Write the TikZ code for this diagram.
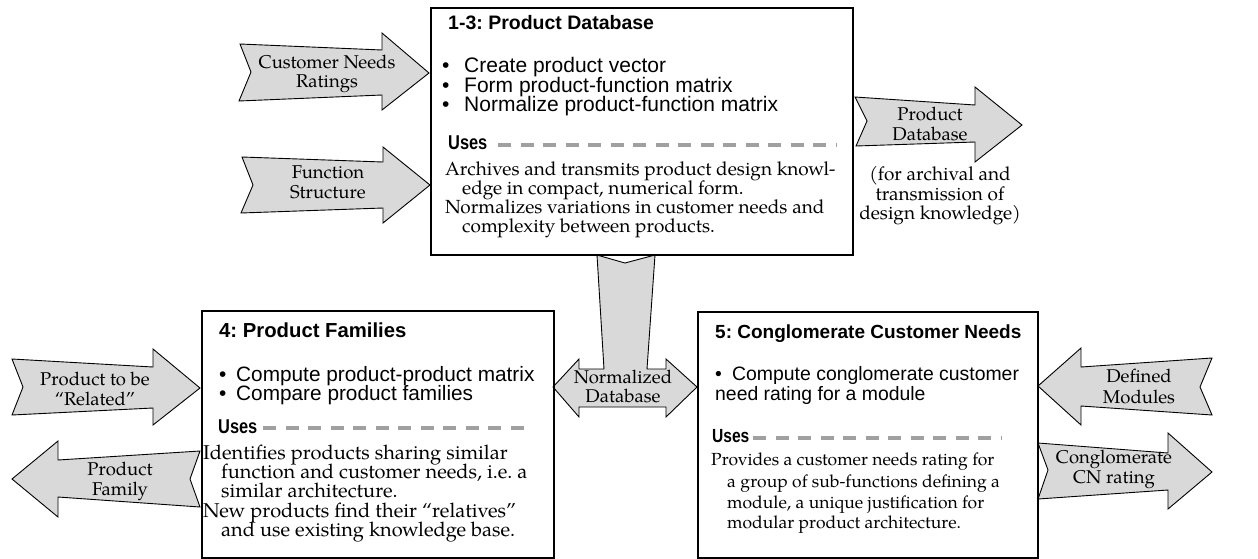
\documentclass[tikz,border=0pt]{standalone}
\usepackage{fontspec}
\setmainfont{TeX Gyre Pagella}
\newfontfamily\sans{Liberation Sans}
\definecolor{arrowgray}{RGB}{217,217,217}
\definecolor{dashgray}{RGB}{160,160,160}
\frenchspacing
\begin{document}
\frenchspacing
\begin{tikzpicture}[x=1pt,y=-1pt,
  box/.style={draw=black, line width=2pt, anchor=north west, inner sep=0pt},
  barrow/.style={draw=black, fill=arrowgray, line width=0.9pt, line join=miter},
  lab/.style={anchor=base, inner sep=0pt, font=\fontsize{18.5}{22}\selectfont},
  headt/.style={anchor=base west, inner sep=0pt, font=\sans\bfseries\fontsize{#1}{24}\selectfont},
  bul/.style={anchor=base west, inner sep=0pt, font=\sans\fontsize{#1}{24}\selectfont},
  usest/.style={anchor=base west, inner sep=0pt, font=\sans\bfseries\fontsize{#1}{24}\selectfont, xscale=0.82},
  bodyt/.style={anchor=base west, inner sep=0pt, font=\fontsize{#1}{22}\selectfont},
  dashline/.style={draw=dashgray, line width=3.5pt, dash pattern=on 13pt off 9.5pt}
]
\useasboundingbox (0,0) rectangle (1258,558);

% ---- block arrows ----
\draw[barrow] (240,44) -- (382,50) -- (382,33) -- (429,73) -- (382,110) -- (382,95) -- (239,101) -- (251,72) -- cycle;
\draw[barrow] (242,157) -- (383,162) -- (383,147) -- (430,185) -- (383,223) -- (383,208) -- (241,213) -- (253,185) -- cycle;
\draw[barrow] (855,97) -- (975,105) -- (975,87) -- (1022,125) -- (975,162) -- (975,142) -- (856,146) -- (867,121) -- cycle;
\draw[barrow] (597,255) -- (604,369) -- (579,369) -- (579,359) -- (553,387) -- (579,417) -- (579,407) -- (666,407) -- (666,417) -- (697,387) -- (666,359) -- (666,369) -- (647,369) -- (655,255) -- (625,263) -- cycle;
\draw[barrow] (12,359) -- (153,367) -- (153,349) -- (200,388) -- (153,425) -- (153,408) -- (12,415) -- (23,387) -- cycle;
\draw[barrow] (12,479) -- (58,441) -- (58,460) -- (200,451) -- (190,479) -- (200,507) -- (58,497) -- (58,517) -- cycle;
\draw[barrow] (1038,386) -- (1081,348) -- (1081,367) -- (1212,358) -- (1200,387) -- (1212,415) -- (1081,406) -- (1081,425) -- cycle;
\draw[barrow] (1038,443) -- (1168,453) -- (1168,433) -- (1212,472) -- (1168,509) -- (1168,490) -- (1038,499) -- (1048,470) -- cycle;

% ---- arrow labels ----
\node[lab] (cn1) at (327,68) {Customer Needs};
\node[lab] (cn2) at (327,87) {Ratings};
\node[lab] (fs1) at (328,178) {Function};
\node[lab] (fs2) at (328,198) {Structure};
\node[lab] (pd1) at (930,120) {Product};
\node[lab] (pd2) at (930,140) {Database};
\node[lab, font=\fontsize{19}{22}\selectfont] (sb1) at (940,180) {(for archival and};
\node[lab, font=\fontsize{19}{22}\selectfont] (sb2) at (940,200) {transmission of};
\node[lab, font=\fontsize{19}{22}\selectfont] (sb3) at (940,219) {design knowledge)};
\node[lab] (nd1) at (623,383) {Normalized};
\node[lab] (nd2) at (623,402) {Database};
\node[lab] (pr1) at (95,385) {Product to be};
\node[lab] (pr2) at (95,405) {“Related”};
\node[lab] (pf1) at (120,475) {Product};
\node[lab] (pf2) at (120,495) {Family};
\node[lab] (dm1) at (1139,382) {Defined};
\node[lab] (dm2) at (1139,403) {Modules};
\node[lab] (cg1) at (1114,463) {Conglomerate};
\node[lab] (cg2) at (1114,483) {CN rating};

% ---- boxes ----
\node[box, minimum width=422pt, minimum height=247pt] (b13) at (430,7) {};
\node[box, minimum width=352pt, minimum height=247pt] (b4) at (201,310) {};
\node[box, minimum width=340pt, minimum height=246pt] (b5) at (697,311) {};

% ---- box 1-3 text ----
\node[headt=19.5] (h13) at (448,29) {1-3: Product Database};
\node[bul=21] (u13a) at (442,72) {\makebox[22pt][l]{•}Create product vector};
\node[bul=21] (u13b) at (442,92) {\makebox[22pt][l]{•}Form product-function matrix};
\node[bul=21] (u13c) at (442,111) {\makebox[22pt][l]{•}Normalize product-function matrix};
\node[usest=20] (us13) at (448,149) {Uses};
\draw[dashline] (498,145) -- (836,145);
\node[bodyt=19] (t13a) at (445,175) {Archives and transmits product design knowl-};
\node[bodyt=19] (t13b) at (462,194) {edge in compact, numerical form.};
\node[bodyt=19] (t13c) at (445,213) {Normalizes variations in customer needs and};
\node[bodyt=19] (t13d) at (462,232) {complexity between products.};

% ---- box 4 text ----
\node[headt=20.3] (h4) at (219,337) {4: Product Families};
\node[bul=20.8] (u4a) at (219,381) {\makebox[17pt][l]{•}Compute product-product matrix};
\node[bul=20.8] (u4b) at (219,400) {\makebox[17pt][l]{•}Compare product families};
\node[usest=20] (us4) at (218,433) {Uses};
\draw[dashline] (263,428) -- (533,428);
\node[bodyt=20] (t4a) at (203,459) {Identifies products sharing similar};
\node[bodyt=20] (t4b) at (221,478) {function and customer needs, i.e. a};
\node[bodyt=20] (t4c) at (221,497) {similar architecture.};
\node[bodyt=20] (t4d) at (203,517) {New products find their “relatives”};
\node[bodyt=20] (t4e) at (221,536) {and use existing knowledge base.};

% ---- box 5 text ----
\node[headt=19] (h5) at (715,338) {5: Conglomerate Customer Needs};
\node[bul=19.4] (u5a) at (715,380) {\makebox[17pt][l]{•}Compute conglomerate customer};
\node[bul=19.4] (u5b) at (715,400) {need rating for a module};
\node[usest=19] (us5) at (712,442) {Uses};
\draw[dashline] (753,438) -- (1002,438);
\node[bodyt=17.5] (t5a) at (711,465) {Provides a customer needs rating for};
\node[bodyt=17.5] (t5b) at (727,487) {a group of sub-functions defining a};
\node[bodyt=17.5] (t5c) at (727,508) {module, a unique justification for};
\node[bodyt=17.5] (t5d) at (727,528) {modular product architecture.};
\end{tikzpicture}
\end{document}
